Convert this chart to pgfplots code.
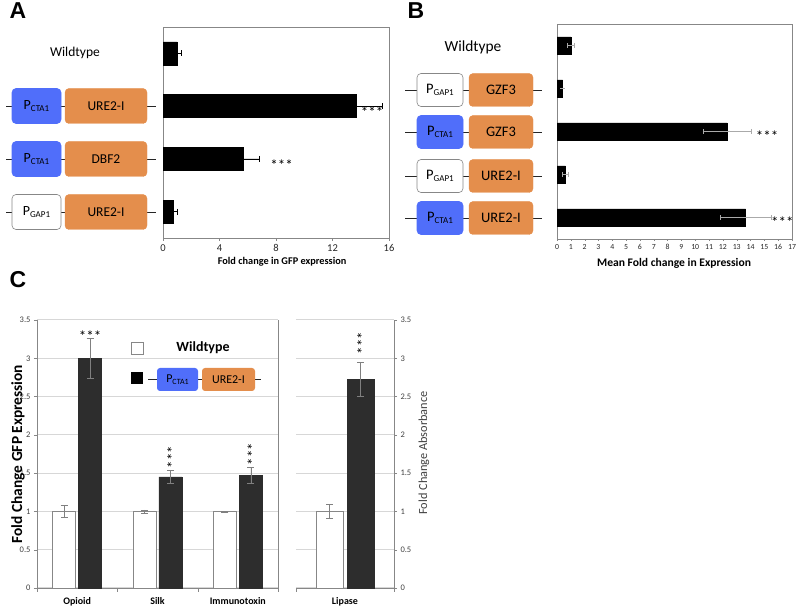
\documentclass[border=0pt]{standalone}
\usepackage{fontspec}
\setmainfont{Carlito}
\newfontfamily\arialf{Liberation Sans}
\usepackage{pgfplots}
\pgfplotsset{compat=1.18}
\pgfplotsset{/pgf/number format/assume math mode=true}

\definecolor{pblue}{RGB}{80,110,250}
\definecolor{porange}{RGB}{228,142,76}
\definecolor{axgray}{RGB}{135,135,135}
\definecolor{gridgray}{RGB}{215,215,215}
\definecolor{bardark}{RGB}{45,45,45}
\definecolor{errgray}{RGB}{170,170,170}

\newcommand{\prom}[3]{{\fontsize{#1}{#1}\selectfont P\raisebox{-0.35ex}{\fontsize{#2}{#2}\selectfont #3}}}
\newcommand{\stars}{\fontsize{15}{15}\selectfont ***}

% Panel A construct: #1 y(px), #2 fill, #3 draw, #4 promoter text, #5 gene
\newcommand{\consA}[5]{%
  \draw[line width=0.9pt, black!85] (6,{607-#1}) -- (156,{607-#1});
  \node[rounded corners=4pt, fill=#2, draw=#3, line width=0.6pt, minimum width=49pt, minimum height=35pt, inner sep=0pt] at (36.5,{607-#1}) {#4};
  \node[rounded corners=4pt, fill=porange, draw=porange, minimum width=82pt, minimum height=35pt, inner sep=0pt, font=\fontsize{13.5}{15}\selectfont] at (106,{607-#1}) {#5};
}
% Panel B construct
\newcommand{\consB}[5]{%
  \draw[line width=0.9pt, black!85] (405,{607-#1}) -- (542,{607-#1});
  \node[rounded corners=4pt, fill=#2, draw=#3, line width=0.6pt, minimum width=46pt, minimum height=33pt, inner sep=0pt] at (440,{607-#1}) {#4};
  \node[rounded corners=4pt, fill=porange, draw=porange, minimum width=64pt, minimum height=33pt, inner sep=0pt, font=\fontsize{14.5}{16}\selectfont] at (501,{607-#1}) {#5};
}

\begin{document}
\begin{tikzpicture}[x=1pt,y=1pt]
\path[use as bounding box] (0,0) rectangle (796,607);

% ---------------- Panel A ----------------
\begin{axis}[
  at={(163pt,369pt)}, anchor=south west, scale only axis,
  width=226pt, height=211pt,
  xbar, bar width=23pt,
  xmin=0, xmax=16, ymin=-0.5, ymax=3.5, y dir=reverse,
  xtick={0,4,8,12,16}, ytick=\empty, minor ytick={0.5,1.5,2.5},
  tick pos=left, tick align=outside, major tick length=3pt, minor tick length=3pt,
  tick style={axgray},
  axis line style={axgray, line width=0.8pt},
  xticklabel style={font=\fontsize{10.5}{12}\selectfont, text=black!85},
  xlabel={Fold change in GFP expression},
  every axis x label/.style={at={(axis description cs:0.527,-0.114)}, anchor=center, font=\bfseries\fontsize{10.3}{12}\selectfont},
  clip=false,
]
\addplot[fill=black, draw=black,
  error bars/.cd, x dir=both, x explicit,
  error bar style={black, line width=0.7pt},
  error mark options={rotate=90, black, mark size=3pt, line width=0.7pt}]
  coordinates {(1.0,0) +- (0.3,0) (13.7,1) +- (1.8,0) (5.7,2) +- (1.1,0) (0.7,3) +- (0.3,0)};
\node at (axis cs:14.8,1.12) {\stars};
\node at (axis cs:8.4,2.12) {\stars};
\end{axis}

\node[font=\fontsize{13.5}{15}\selectfont] at (75,{607-53}) {Wildtype};
\consA{106}{pblue}{pblue}{\prom{14}{9}{CTA1}}{URE2-I}
\consA{159}{pblue}{pblue}{\prom{14}{9}{CTA1}}{DBF2}
\consA{212}{white}{axgray}{\prom{14}{9}{GAP1}}{URE2-I}

% ---------------- Panel B ----------------
\begin{axis}[
  at={(557pt,368pt)}, anchor=south west, scale only axis,
  width=235pt, height=215pt,
  xbar, bar width=17pt,
  xmin=0, xmax=17, ymin=-0.5, ymax=4.5, y dir=reverse,
  xtick={0,1,...,17}, ytick=\empty, minor ytick={0.5,1.5,2.5,3.5},
  tick pos=left, tick align=outside, major tick length=2pt, minor tick length=3pt,
  tick style={axgray},
  axis line style={axgray, line width=0.8pt},
  xticklabel style={font=\fontsize{7.8}{9}\selectfont, text=black!85},
  xlabel={Mean Fold change in Expression},
  every axis x label/.style={at={(axis description cs:0.498,-0.112)}, anchor=center, font=\bfseries\fontsize{11.6}{13}\selectfont},
  clip=false,
]
\addplot[fill=black, draw=black,
  error bars/.cd, x dir=both, x explicit,
  error bar style={errgray, line width=0.6pt},
  error mark options={rotate=90, errgray, mark size=2.5pt, line width=0.6pt}]
  coordinates {(1.0,0) +- (0.22,0) (0.4,1) +- (0,0) (12.3,2) +- (1.75,0) (0.6,3) +- (0.2,0) (13.65,4) +- (1.85,0)};
\node at (axis cs:15.2,2.12) {\stars};
\node at (axis cs:16.3,4.12) {\stars};
\end{axis}

\node[font=\fontsize{15.4}{17}\selectfont] at (473,{607-47}) {Wildtype};
\consB{90}{white}{axgray}{\prom{14.5}{9}{GAP1}}{GZF3}
\consB{132}{pblue}{pblue}{\prom{14.5}{9}{CTA1}}{GZF3}
\consB{176}{white}{axgray}{\prom{14.5}{9}{GAP1}}{URE2-I}
\consB{218}{pblue}{pblue}{\prom{14.5}{9}{CTA1}}{URE2-I}

% ---------------- Panel C left ----------------
\begin{axis}[
  at={(37pt,19pt)}, anchor=south west, scale only axis,
  width=241pt, height=268pt,
  ybar=3pt, bar width=23pt,
  xmin=-0.5, xmax=2.5, ymin=0, ymax=3.5,
  axis x line*=bottom, axis y line*=left,
  axis line style={-, axgray, line width=0.8pt},
  xtick={0,1,2}, xticklabels={Opioid,Silk,Immunotoxin},
  major x tick style={draw=none},
  minor xtick={-0.5,0.5,1.5,2.5},
  ytick={0,0.5,...,3.5},
  tick align=outside, major tick length=3pt, minor tick length=4pt,
  tick style={axgray},
  ymajorgrids, grid style={gridgray, line width=1pt},
  xticklabel style={font=\bfseries\fontsize{10}{12}\selectfont, yshift=-2.5pt},
  yticklabel style={font=\fontsize{8.5}{10}\selectfont, text=black!75},
  ylabel={Fold Change GFP Expression},
  every axis y label/.style={at={(axis description cs:-0.079,0.5)}, rotate=90, anchor=center, font=\bfseries\fontsize{15.4}{17}\selectfont},
  clip=false,
]
\addplot[fill=white, draw=axgray, line width=0.7pt,
  error bars/.cd, y dir=both, y explicit,
  error bar style={gray, line width=0.6pt},
  error mark options={rotate=90, gray, mark size=3.5pt, line width=0.6pt}]
  coordinates {(0,1) +- (0,0.08) (1,1) +- (0,0.02) (2,1) +- (0,0.005)};
\addplot[fill=bardark, draw=bardark,
  error bars/.cd, y dir=both, y explicit,
  error bar style={gray, line width=0.6pt},
  error mark options={rotate=90, gray, mark size=3.5pt, line width=0.6pt}]
  coordinates {(0,3.0) +- (0,0.26) (1,1.45) +- (0,0.085) (2,1.47) +- (0,0.105)};
\draw[axgray, line width=0.8pt] (rel axis cs:1,0) -- (rel axis cs:1,1);
\node[xshift=13pt] at (axis cs:0,3.29) {\stars};
\node[rotate=90] at ([xshift=15pt]axis cs:1,1.71) {\stars};
\node[rotate=90] at ([xshift=15pt]axis cs:2,1.75) {\stars};
\end{axis}

% ---------------- Panel C right (Lipase) ----------------
\begin{axis}[
  at={(296pt,19pt)}, anchor=south west, scale only axis,
  width=98pt, height=268pt,
  ybar=4pt, bar width=27pt,
  xmin=-0.5, xmax=0.5, ymin=0, ymax=3.5,
  axis x line*=bottom, axis y line*=right,
  axis line style={-, axgray, line width=0.8pt},
  xtick={0}, xticklabels={Lipase},
  major x tick style={draw=none},
  minor xtick={-0.5,0.5},
  ytick={0,0.5,...,3.5},
  tick align=outside, major tick length=3pt, minor tick length=4pt,
  tick style={axgray},
  ymajorgrids, grid style={gridgray, line width=1pt},
  xticklabel style={font=\bfseries\fontsize{10}{12}\selectfont, yshift=-2.5pt},
  yticklabel style={font=\fontsize{8.5}{10}\selectfont, text=black!75},
  ylabel={Fold Change Absorbance},
  every axis y label/.style={at={(axis description cs:1.306,0.504)}, rotate=90, anchor=center, font=\fontsize{12.3}{14}\selectfont, text=black!75},
  clip=false,
]
\addplot[fill=white, draw=axgray, line width=0.7pt,
  error bars/.cd, y dir=both, y explicit,
  error bar style={gray, line width=0.6pt},
  error mark options={rotate=90, gray, mark size=3.5pt, line width=0.6pt}]
  coordinates {(0,1) +- (0,0.095)};
\addplot[fill=bardark, draw=bardark,
  error bars/.cd, y dir=both, y explicit,
  error bar style={gray, line width=0.6pt},
  error mark options={rotate=90, gray, mark size=3.5pt, line width=0.6pt}]
  coordinates {(0,2.73) +- (0,0.22)};
\node[rotate=90] at ([xshift=17.5pt]axis cs:0,3.2) {\stars};
\end{axis}

% legend of panel C
\draw[axgray, fill=white, line width=0.7pt] (131,{607-342}) rectangle (143,{607-354});
\node[font=\bfseries\fontsize{14}{15}\selectfont] at (203,{607-348}) {Wildtype};
\fill[black] (131,{607-372}) rectangle (143,{607-384});
\draw[line width=0.9pt, black!85] (148,{607-379.5}) -- (261,{607-379.5});
\node[rounded corners=3pt, fill=pblue, minimum width=41pt, minimum height=23pt, inner sep=0pt] at (177.5,{607-379.5}) {\prom{12}{8}{CTA1}};
\node[rounded corners=3pt, fill=porange, minimum width=53pt, minimum height=23pt, inner sep=0pt, font=\fontsize{12}{13}\selectfont] at (228.5,{607-379.5}) {URE2-I};

% panel letters
\node[font=\arialf\bfseries\fontsize{23}{23}\selectfont] at (18,{607-11}) {A};
\node[font=\arialf\bfseries\fontsize{23}{23}\selectfont] at (416,{607-11}) {B};
\node[font=\arialf\bfseries\fontsize{23}{23}\selectfont] at (18,{607-280}) {C};
\end{tikzpicture}
\end{document}
